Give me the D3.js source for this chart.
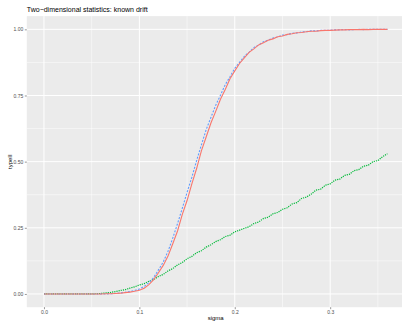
<!DOCTYPE html>
<html>
<head>
<meta charset="utf-8">
<script src="https://cdn.jsdelivr.net/npm/d3@7"></script>
<style>
  body { margin: 0; background: #fff; }
  svg { display: block; font-family: "Liberation Sans", Arial, sans-serif; }
</style>
</head>
<body>
<svg id="chart" width="402" height="322"></svg>
<script>
// sigma values (x)
const sigma = [
  0.000, 0.005, 0.010, 0.015, 0.020, 0.025, 0.030, 0.035, 0.040, 0.045,
  0.050, 0.055, 0.060, 0.065, 0.070, 0.075, 0.080, 0.085, 0.090, 0.095,
  0.100, 0.105, 0.110, 0.115, 0.120, 0.125, 0.130, 0.135, 0.140, 0.145,
  0.150, 0.155, 0.160, 0.165, 0.170, 0.175, 0.180, 0.185, 0.190, 0.195,
  0.200, 0.205, 0.210, 0.215, 0.220, 0.225, 0.230, 0.235, 0.240, 0.245,
  0.250, 0.255, 0.260, 0.265, 0.270, 0.275, 0.280, 0.285, 0.290, 0.295,
  0.300, 0.305, 0.310, 0.315, 0.320, 0.325, 0.330, 0.335, 0.340, 0.345,
  0.350, 0.355, 0.360
];

// typeII, red series
const typeIIRed = [
  0, 0, 0, 0, 0, 0, 0, 0, 0, 0,
  0, 0, 0, 0.001, 0.001, 0.002, 0.003, 0.005, 0.007, 0.010,
  0.014, 0.022, 0.035, 0.054, 0.080, 0.108, 0.143, 0.190, 0.238, 0.301,
  0.353, 0.416, 0.474, 0.541, 0.593, 0.646, 0.690, 0.736, 0.773, 0.813,
  0.843, 0.871, 0.892, 0.913, 0.926, 0.941, 0.949, 0.959, 0.964, 0.972,
  0.975, 0.981, 0.983, 0.987, 0.988, 0.991, 0.993, 0.993, 0.995, 0.996,
  0.996, 0.997, 0.998, 0.998, 0.999, 0.999, 0.999, 1.000, 0.999, 1.000,
  1.000, 1.000, 1.000
];

// typeII, blue series
const typeIIBlue = [
  0, 0, 0, 0, 0, 0, 0, 0, 0, 0,
  0, 0, 0, 0.000, 0.001, 0.002, 0.004, 0.006, 0.009, 0.013,
  0.019, 0.028, 0.043, 0.062, 0.091, 0.121, 0.161, 0.211, 0.266, 0.324,
  0.384, 0.441, 0.504, 0.563, 0.621, 0.667, 0.713, 0.751, 0.791, 0.821,
  0.853, 0.875, 0.898, 0.914, 0.931, 0.941, 0.953, 0.959, 0.967, 0.971,
  0.978, 0.980, 0.985, 0.986, 0.990, 0.991, 0.994, 0.994, 0.996, 0.996,
  0.997, 0.998, 0.998, 0.999, 0.998, 0.999, 1.000, 0.999, 1.000, 1.000,
  1.000, 1.000, 1.000
];

// typeII, green series
const typeIIGreen = [
  0, 0, 0, 0, 0, 0, 0, 0, 0, 0,
  0, 0.001, 0.002, 0.004, 0.006, 0.009, 0.013, 0.016, 0.022, 0.027,
  0.034, 0.039, 0.048, 0.055, 0.066, 0.074, 0.087, 0.096, 0.110, 0.119,
  0.133, 0.142, 0.156, 0.163, 0.177, 0.186, 0.198, 0.205, 0.217, 0.222,
  0.235, 0.241, 0.248, 0.254, 0.266, 0.272, 0.285, 0.290, 0.303, 0.308,
  0.320, 0.326, 0.340, 0.345, 0.361, 0.366, 0.377, 0.392, 0.396, 0.411,
  0.416, 0.430, 0.434, 0.448, 0.452, 0.466, 0.470, 0.483, 0.487, 0.500,
  0.504, 0.519, 0.530
];

const xTicks = [0, 0.1, 0.2, 0.3];
const xMinor = [0.05, 0.15, 0.25, 0.35];
const yTicks = [0, 0.25, 0.5, 0.75, 1];
const yMinor = [0.125, 0.375, 0.625, 0.875];

const svg = d3.select('#chart');
const panel = { left: 26.8, right: 404.6, top: 16.1, bottom: 307.2 };

const x = d3.scaleLinear().domain([-0.018, 0.378]).range([panel.left, panel.right]);
const y = d3.scaleLinear().domain([-0.05, 1.05]).range([panel.bottom, panel.top]);

svg.append('defs').append('clipPath').attr('id', 'clip')
  .append('rect')
  .attr('x', panel.left).attr('y', panel.top)
  .attr('width', panel.right - panel.left).attr('height', panel.bottom - panel.top);

svg.append('rect')
  .attr('x', panel.left).attr('y', panel.top)
  .attr('width', panel.right - panel.left).attr('height', panel.bottom - panel.top)
  .attr('fill', '#EBEBEB');

const grid = svg.append('g').attr('clip-path', 'url(#clip)');
grid.selectAll('.xminor').data(xMinor).enter().append('line')
  .attr('x1', d => x(d)).attr('x2', d => x(d))
  .attr('y1', panel.top).attr('y2', panel.bottom)
  .attr('stroke', '#fff').attr('stroke-width', 0.5);
grid.selectAll('.yminor').data(yMinor).enter().append('line')
  .attr('y1', d => y(d)).attr('y2', d => y(d))
  .attr('x1', panel.left).attr('x2', panel.right)
  .attr('stroke', '#fff').attr('stroke-width', 0.5);
grid.selectAll('.xmajor').data(xTicks).enter().append('line')
  .attr('x1', d => x(d)).attr('x2', d => x(d))
  .attr('y1', panel.top).attr('y2', panel.bottom)
  .attr('stroke', '#fff').attr('stroke-width', 1);
grid.selectAll('.ymajor').data(yTicks).enter().append('line')
  .attr('y1', d => y(d)).attr('y2', d => y(d))
  .attr('x1', panel.left).attr('x2', panel.right)
  .attr('stroke', '#fff').attr('stroke-width', 1);

// series
const series = [
  { values: typeIIGreen, color: '#00BA38', dash: '1.2,1', width: 1.2 },
  { values: typeIIBlue, color: '#619CFF', dash: '2,1.5', width: 1.1 },
  { values: typeIIRed, color: '#F8766D', dash: null, width: 1.1 }
];
const line = d3.line().x(d => x(d[0])).y(d => y(d[1]));
const plot = svg.append('g').attr('clip-path', 'url(#clip)');
series.forEach(s => {
  plot.append('path')
    .datum(sigma.map((v, i) => [v, s.values[i]]))
    .attr('d', line)
    .attr('fill', 'none')
    .attr('stroke', s.color)
    .attr('stroke-width', s.width)
    .attr('stroke-dasharray', s.dash);
});

// axes
const xAxis = svg.append('g')
  .attr('transform', `translate(0,${panel.bottom})`)
  .call(d3.axisBottom(x).tickValues(xTicks).tickFormat(d3.format('.1f')).tickSize(2).tickPadding(1.5));
const yAxis = svg.append('g')
  .attr('transform', `translate(${panel.left},0)`)
  .call(d3.axisLeft(y).tickValues(yTicks).tickFormat(d3.format('.2f')).tickSize(2).tickPadding(1.5));
[xAxis, yAxis].forEach(a => {
  a.select('.domain').remove();
  a.selectAll('.tick line').attr('stroke', '#333333').attr('stroke-width', 0.5);
  a.selectAll('.tick text').attr('fill', '#4D4D4D').style('font-size', '5px');
});

svg.append('text')
  .attr('x', (panel.left + panel.right) / 2).attr('y', 319.5)
  .attr('text-anchor', 'middle').style('font-size', '6px').attr('fill', '#000')
  .text('sigma');
svg.append('text')
  .attr('transform', `translate(12.2,${(panel.top + panel.bottom) / 2}) rotate(-90)`)
  .attr('text-anchor', 'middle').style('font-size', '6px').attr('fill', '#000')
  .text('typeII');
svg.append('text')
  .attr('x', 26.8).attr('y', 11.5)
  .style('font-size', '7px').attr('fill', '#000')
  .text('Two\u2212dimensional statistics: known drift');
</script>
</body>
</html>
